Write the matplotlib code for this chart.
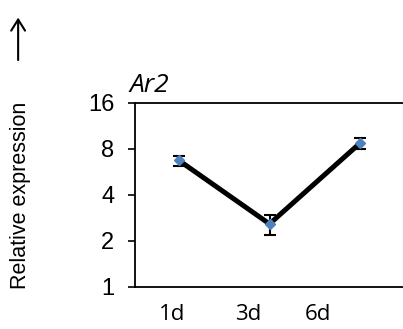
import matplotlib
matplotlib.use('Agg')
import matplotlib.pyplot as plt

# data (log2 scale)
days = ['1d', '3d', '6d']
expr = [6.7, 2.58, 8.7]
err_lo = [0.5, 0.4, 0.75]
err_hi = [0.45, 0.38, 0.7]
y_ticks = [1, 2, 4, 8, 16]

fig = plt.figure(figsize=(4.03, 3.29), dpi=100)
ax = fig.add_axes([0.335, 0.128, 0.665, 0.56])

x = list(range(len(days)))
ax.plot(x, expr, color='black', lw=3.6, zorder=2)
ax.errorbar(x, expr, yerr=[err_lo, err_hi], fmt='none', ecolor='black',
            elinewidth=1.5, capsize=4, capthick=1.5, zorder=3)
ax.plot(x, expr, 'D', color='#4F81BD', markersize=5, zorder=4)

ax.set_yscale('log', base=2)
ax.set_ylim(1, 16)
ax.set_yticks(y_ticks)
ax.set_yticklabels([str(v) for v in y_ticks], fontsize=17, family='Liberation Sans')
ax.minorticks_off()
ax.tick_params(axis='y', direction='out', length=5, width=1.2, pad=10)

ax.set_xlim(-0.486, 2.475)
ax.set_xticks([-0.077, 0.76, 1.54])
ax.set_xticklabels(days, fontsize=16, family='Open Sans')
ax.tick_params(axis='x', length=0, pad=12)

for s in ['left', 'bottom', 'top']:
    ax.spines[s].set_linewidth(1.3)
ax.spines['right'].set_color('#cccccc')
ax.spines['right'].set_linewidth(0.8)

fig.text(0.322, 0.72, 'Ar2', fontsize=19, style='italic', family='Open Sans',
         ha='left', va='baseline')
fig.text(0.052, 0.407, 'Relative expression', rotation=90, fontsize=15.5,
         family='Liberation Sans', ha='center', va='center')
fig.add_artist(matplotlib.patches.FancyArrowPatch(
    (0.045, 0.809), (0.045, 0.955), transform=fig.transFigure,
    arrowstyle='->,head_length=8,head_width=5', color='black', lw=1.5,
    mutation_scale=1))

fig.savefig('out.png', dpi=100)
